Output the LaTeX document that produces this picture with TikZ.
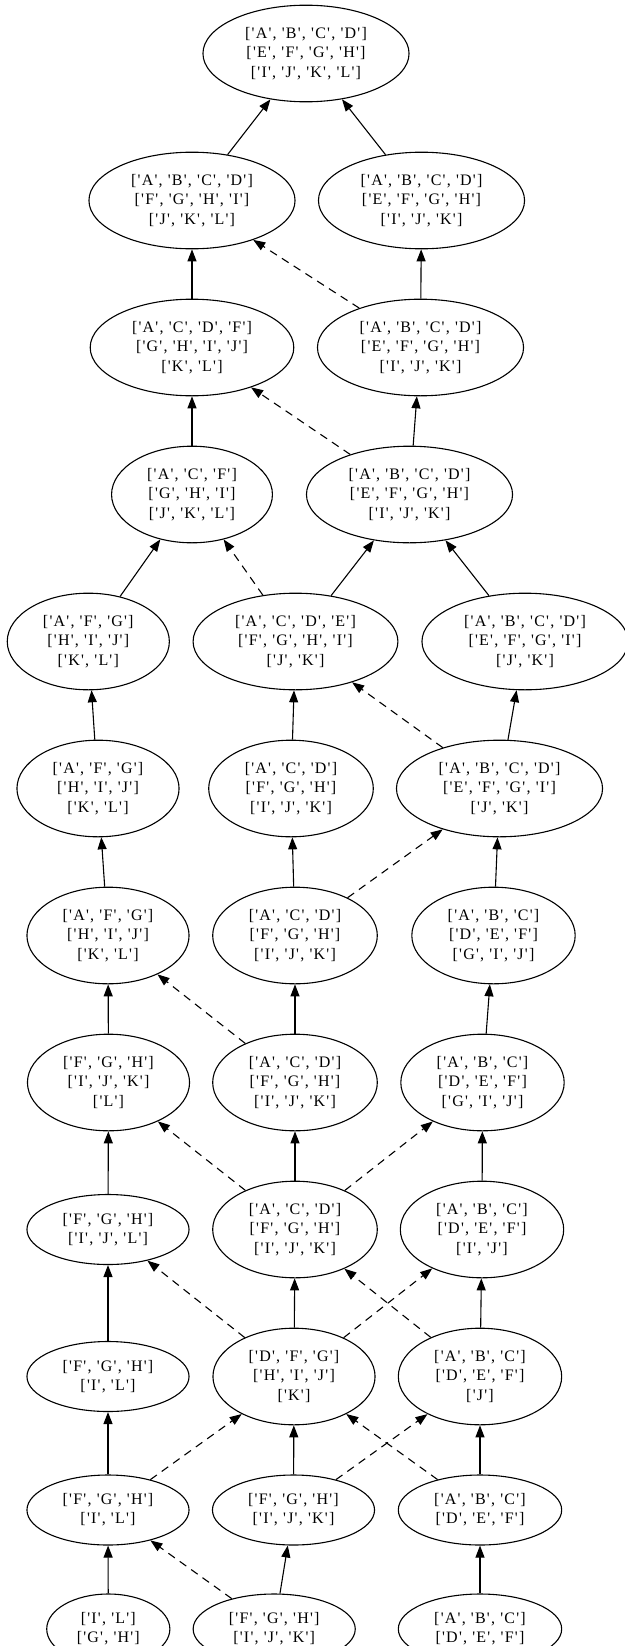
\documentclass[tikz,border=0pt]{standalone}
\usepackage{fontspec}
\setmainfont{Liberation Serif}[Ligatures=TeXOff]
\usetikzlibrary{shapes.geometric,arrows.meta}
\newcommand\qmark{\hbox to .333em{\hss'\hss}}
\newcommand\qq[1]{\qmark#1\qmark}
\def\lst#1{[\lstA#1,\relax]}
\def\lstA#1,#2\relax{\qq{#1}\ifx\relax#2\relax\else, \lstA#2\relax\fi}
\tikzset{
  gv/.style={draw, ellipse, inner xsep=12pt, inner ysep=2pt, align=center,
    font=\fontsize{16}{19.2}\selectfont, line width=1.1pt},
  three/.style={gv, minimum height=96.6pt},
  two/.style={gv, minimum height=70pt},
  edge/.style={line width=1.1pt, -{Triangle[length=12pt,width=9pt]}},
  dedge/.style={edge, dash pattern=on 8pt off 6pt}
}
\begin{document}
\begin{tikzpicture}[x=1pt,y=1pt]
\fill[white] (0,0) rectangle (624,-1646);
\useasboundingbox (0,0) rectangle (624,-1646);
% row 1
\node[three] (n1) at (306,-53.5) {\lst{A,B,C,D}\\\lst{E,F,G,H}\\\lst{I,J,K,L}};
% row 2
\node[three] (n2a) at (192,-200.5) {\lst{A,B,C,D}\\\lst{F,G,H,I}\\\lst{J,K,L}};
\node[three] (n2b) at (421.5,-200.5) {\lst{A,B,C,D}\\\lst{E,F,G,H}\\\lst{I,J,K}};
% row 3
\node[three] (n3a) at (192,-347.5) {\lst{A,C,D,F}\\\lst{G,H,I,J}\\\lst{K,L}};
\node[three] (n3b) at (420.5,-347.5) {\lst{A,B,C,D}\\\lst{E,F,G,H}\\\lst{I,J,K}};
% row 4
\node[three] (n4a) at (192,-494.5) {\lst{A,C,F}\\\lst{G,H,I}\\\lst{J,K,L}};
\node[three] (n4b) at (409.5,-494.5) {\lst{A,B,C,D}\\\lst{E,F,G,H}\\\lst{I,J,K}};
% row 5
\node[three] (n5a) at (88.3,-641.5) {\lst{A,F,G}\\\lst{H,I,J}\\\lst{K,L}};
\node[three] (n5b) at (295.5,-641.5) {\lst{A,C,D,E}\\\lst{F,G,H,I}\\\lst{J,K}};
\node[three] (n5c) at (525,-641.5) {\lst{A,B,C,D}\\\lst{E,F,G,I}\\\lst{J,K}};
% row 6
\node[three] (n6a) at (98,-788.5) {\lst{A,F,G}\\\lst{H,I,J}\\\lst{K,L}};
\node[three] (n6b) at (291,-788.5) {\lst{A,C,D}\\\lst{F,G,H}\\\lst{I,J,K}};
\node[three] (n6c) at (499.5,-788.5) {\lst{A,B,C,D}\\\lst{E,F,G,I}\\\lst{J,K}};
% row 7
\node[three] (n7a) at (108,-935.5) {\lst{A,F,G}\\\lst{H,I,J}\\\lst{K,L}};
\node[three] (n7b) at (295,-935.5) {\lst{A,C,D}\\\lst{F,G,H}\\\lst{I,J,K}};
\node[three] (n7c) at (493.5,-935.5) {\lst{A,B,C}\\\lst{D,E,F}\\\lst{G,I,J}};
% row 8
\node[three] (n8a) at (108.5,-1082.5) {\lst{F,G,H}\\\lst{I,J,K}\\\lst{L}};
\node[three] (n8b) at (295,-1082.5) {\lst{A,C,D}\\\lst{F,G,H}\\\lst{I,J,K}};
\node[three] (n8c) at (482.5,-1082.5) {\lst{A,B,C}\\\lst{D,E,F}\\\lst{G,I,J}};
% row 9
\node[two] (n9a) at (108,-1229.5) {\lst{F,G,H}\\\lst{I,J,L}};
\node[three] (n9b) at (295,-1229.5) {\lst{A,C,D}\\\lst{F,G,H}\\\lst{I,J,K}};
\node[three] (n9c) at (482,-1229.5) {\lst{A,B,C}\\\lst{D,E,F}\\\lst{I,J}};
% row 10
\node[two] (n10a) at (108,-1376.5) {\lst{F,G,H}\\\lst{I,L}};
\node[three] (n10b) at (294,-1376.5) {\lst{D,F,G}\\\lst{H,I,J}\\\lst{K}};
\node[three] (n10c) at (480,-1376.5) {\lst{A,B,C}\\\lst{D,E,F}\\\lst{J}};
% row 11
\node[two] (n11a) at (108,-1510) {\lst{F,G,H}\\\lst{I,L}};
\node[two] (n11b) at (293.5,-1510) {\lst{F,G,H}\\\lst{I,J,K}};
\node[two] (n11c) at (480,-1510) {\lst{A,B,C}\\\lst{D,E,F}};
% row 12
\node[two] (n12a) at (108.3,-1629) {\lst{I,L}\\\lst{G,H}};
\node[two] (n12b) at (274.2,-1629) {\lst{F,G,H}\\\lst{I,J,K}};
\node[two] (n12c) at (480,-1629) {\lst{A,B,C}\\\lst{D,E,F}};
% edges
\draw[edge] (n2a) -- (n1);
\draw[edge] (n2b) -- (n1);
\draw[edge] (n3a) -- (n2a);
\draw[edge] (n3b) -- (n2b);
\draw[dedge] (n3b) -- (n2a);
\draw[edge] (n4a) -- (n3a);
\draw[edge] (n4b) -- (n3b);
\draw[dedge] (n4b) -- (n3a);
\draw[edge] (n5a) -- (n4a);
\draw[dedge] (n5b) -- (n4a);
\draw[edge] (n5b) -- (n4b);
\draw[edge] (n5c) -- (n4b);
\draw[edge] (n6a) -- (n5a);
\draw[edge] (n6b) -- (n5b);
\draw[edge] (n6c) -- (n5c);
\draw[dedge] (n6c) -- (n5b);
\draw[edge] (n7a) -- (n6a);
\draw[edge] (n7b) -- (n6b);
\draw[dedge] (n7b) -- (n6c);
\draw[edge] (n7c) -- (n6c);
\draw[edge] (n8a) -- (n7a);
\draw[edge] (n8b) -- (n7b);
\draw[dedge] (n8b) -- (n7a);
\draw[edge] (n8c) -- (n7c);
\draw[edge] (n9a) -- (n8a);
\draw[edge] (n9b) -- (n8b);
\draw[dedge] (n9b) -- (n8a);
\draw[dedge] (n9b) -- (n8c);
\draw[edge] (n9c) -- (n8c);
\draw[edge] (n10a) -- (n9a);
\draw[edge] (n10b) -- (n9b);
\draw[dedge] (n10b) -- (n9a);
\draw[dedge] (n10b) -- (n9c);
\draw[edge] (n10c) -- (n9c);
\draw[dedge] (n10c) -- (n9b);
\draw[edge] (n11a) -- (n10a);
\draw[dedge] (n11a) -- (n10b);
\draw[edge] (n11b) -- (n10b);
\draw[dedge] (n11b) -- (n10c);
\draw[edge] (n11c) -- (n10c);
\draw[dedge] (n11c) -- (n10b);
\draw[edge] (n12a) -- (n11a);
\draw[edge] (n12b) -- (n11b);
\draw[dedge] (n12b) -- (n11a);
\draw[edge] (n12c) -- (n11c);
\end{tikzpicture}
\end{document}
